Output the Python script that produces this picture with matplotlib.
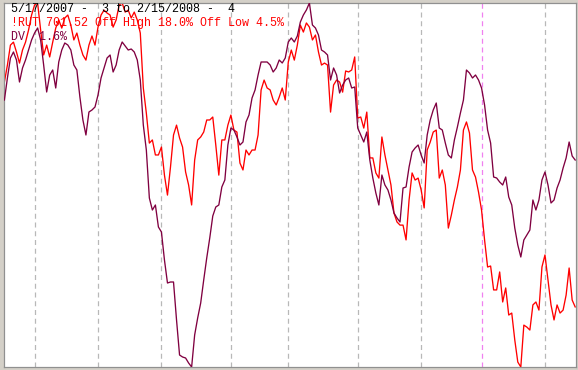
import matplotlib
matplotlib.use("Agg")
import matplotlib.pyplot as plt
import numpy as np

# Russell 2000 (!RUT) daily closes, 5/17/2007 - 2/15/2008 (approx.)
rut = [815.5, 824.1, 834.2, 835.7, 830.7, 825.1, 831.7, 835.7, 841.8, 849.4,
       854.5, 855.5, 841.8, 829.2, 834.2, 828.2, 835.7, 842.8, 846.9, 842.8,
       847.9, 849.4, 844.3, 836.8, 840.3, 834.2, 829.2, 826.6, 834.2, 838.8,
       834.2, 843.3, 849.4, 851.9, 850.4, 849.4, 843.3, 846.9, 854.5, 855.5,
       850.9, 851.9, 847.9, 850.9, 846.9, 840.3, 812.5, 799.8, 784.6, 786.2,
       778.6, 778.6, 782.6, 768.4, 758.3, 772.5, 788.7, 793.7, 787.2, 782.6,
       770.0, 763.4, 753.3, 776.0, 786.2, 787.7, 790.2, 796.3, 796.3, 797.8,
       783.6, 768.4, 786.2, 786.2, 793.7, 798.8, 791.2, 790.2, 774.5, 771.0,
       781.1, 778.6, 781.1, 781.1, 788.7, 811.5, 816.5, 812.5, 811.5, 806.4,
       803.9, 807.9, 812.5, 806.4, 825.6, 831.7, 826.6, 834.2, 844.3, 840.8,
       845.4, 843.3, 836.8, 839.3, 830.7, 824.1, 825.1, 824.1, 800.3, 814.0,
       816.5, 815.5, 810.4, 821.1, 820.6, 821.6, 828.2, 797.3, 797.8, 792.2,
       800.3, 777.1, 777.1, 769.5, 766.9, 787.7, 778.6, 771.0, 763.4, 749.2,
       744.7, 743.1, 743.1, 735.6, 755.8, 769.5, 765.9, 766.9, 760.9, 751.8,
       781.1, 785.1, 790.2, 791.2, 766.9, 771.0, 763.4, 741.6, 748.2, 755.8,
       762.4, 771.0, 791.2, 795.3, 789.7, 771.0, 767.4, 759.8, 750.7, 735.6,
       721.9, 722.4, 710.3, 710.3, 719.4, 704.2, 711.3, 697.6, 698.6, 685.0,
       673.8, 671.3, 692.5, 691.5, 690.0, 702.7, 704.2, 700.1, 721.9, 728.0,
       715.3, 702.7, 695.1, 702.7, 698.6, 700.1, 707.7, 721.4, 705.2, 701.7]

# Second series (DV), relative level
dv = [267, 289, 309, 315, 307, 285, 299, 307, 317, 327,
      334, 339, 327, 302, 275, 292, 297, 279, 305, 317,
      324, 322, 317, 302, 297, 270, 247, 232, 255, 257,
      260, 272, 289, 299, 309, 312, 295, 302, 317, 325,
      321, 317, 318, 315, 307, 287, 242, 217, 169, 157,
      162, 140, 135, 107, 84, 85, 85, 47, 12, 10,
      9, 4, 0, 32, 49, 64, 87, 109, 129, 151,
      160, 162, 180, 187, 222, 239, 237, 230, 222, 225,
      245, 252, 269, 277, 292, 305, 305, 305, 302, 295,
      299, 307, 304, 309, 325, 329, 325, 331, 345, 352,
      357, 364, 342, 339, 332, 317, 315, 312, 287, 299,
      292, 274, 282, 287, 289, 279, 280, 239, 232, 225,
      235, 207, 189, 174, 162, 192, 182, 177, 167, 154,
      149, 145, 179, 180, 200, 215, 219, 222, 212, 204,
      232, 247, 257, 264, 239, 237, 224, 212, 209, 227,
      240, 254, 267, 297, 294, 289, 292, 287, 279, 262,
      237, 224, 190, 189, 185, 182, 190, 170, 162, 139,
      122, 110, 127, 132, 137, 167, 157, 167, 187, 195,
      182, 164, 167, 179, 187, 199, 209, 225, 211, 207]

# month-start trading-day indices (Jun 1 ... Feb 1); the year break is highlighted
month_starts = [10, 31, 52, 75, 94, 117, 138, 158, 179]
year_break = 158

title_line = "5/17/2007 -  3 to 2/15/2008 -  4"
rut_line = "!RUT 701.52 Off High 18.0% Off Low 4.5%"
dv_line = "DV  1.6%"

W, H = 578, 370
fig = plt.figure(figsize=(W / 100, H / 100), dpi=100)
fig.patch.set_facecolor("#d4d0c8")

left, right, top, bottom = 4, 576, 3, 367
rect = [left / W, (H - bottom) / H, (right - left) / W, (bottom - top) / H]
ax = fig.add_axes(rect)
ax.set_facecolor("white")
ax2 = ax.twinx()

x = np.arange(len(rut))
xmin = -0.13
xmax = xmin + (right - left) / 3.02
ax.set_xlim(xmin, xmax)

for m in month_starts:
    col = "#f080f0" if m == year_break else "#b8b8b8"
    ax.axvline(m, color=col, lw=0.9, ls=(0, (4, 3)), zorder=1)

ax.plot(x, rut, color="#ff0000", lw=0.95, zorder=3)
ax2.plot(x, dv, color="#800040", lw=0.95, zorder=3)

ax.set_ylim(min(rut), max(rut))
ax2.set_ylim(min(dv), max(dv))

for a in (ax, ax2):
    a.set_xticks([])
    a.set_yticks([])
    for s in a.spines.values():
        s.set_color("#909090")
        s.set_linewidth(0.8)

fnt = dict(family="Liberation Mono", size=8.4)
fig.text(11 / W, 1 - 12 / H, title_line, color="black", va="baseline", ha="left", **fnt)
fig.text(11 / W, 1 - 26 / H, rut_line, color="#ff0000", va="baseline", ha="left", **fnt)
fig.text(11 / W, 1 - 40 / H, dv_line, color="#800040", va="baseline", ha="left", **fnt)

fig.savefig("out.png", dpi=100, facecolor=fig.get_facecolor())
